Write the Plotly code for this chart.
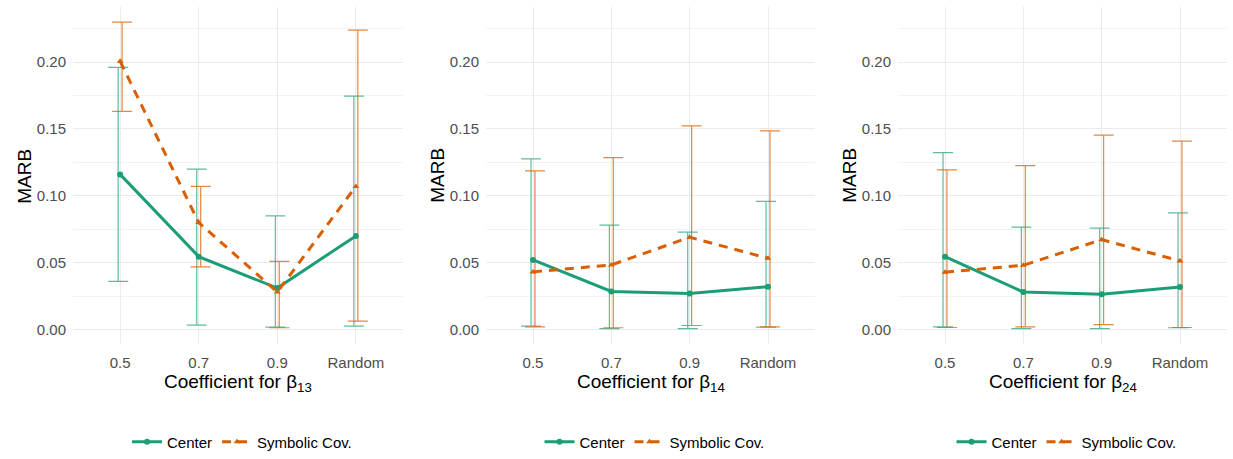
import plotly.graph_objects as go

categories = ["0.5", "0.7", "0.9", "Random"]
panel_subscripts = ["13", "14", "24"]

# Center series: mean, lower, upper per panel
center_mean = [
    [0.116, 0.0545, 0.031, 0.070],
    [0.052, 0.0285, 0.027, 0.032],
    [0.0545, 0.028, 0.0263, 0.0317],
]
center_low = [
    [0.036, 0.0033, 0.0018, 0.0025],
    [0.0025, 0.0007, 0.0007, 0.0018],
    [0.002, 0.0007, 0.0007, 0.0013],
]
center_high = [
    [0.196, 0.120, 0.085, 0.1746],
    [0.1276, 0.078, 0.0728, 0.0958],
    [0.1323, 0.0765, 0.0758, 0.0872],
]

# Symbolic Cov. series
symb_mean = [
    [0.2006, 0.080, 0.028, 0.107],
    [0.0431, 0.0483, 0.069, 0.0533],
    [0.0429, 0.048, 0.0672, 0.0513],
]
symb_low = [
    [0.1632, 0.0468, 0.0013, 0.0062],
    [0.002, 0.0013, 0.003, 0.002],
    [0.0015, 0.002, 0.0037, 0.0015],
]
symb_high = [
    [0.2299, 0.107, 0.051, 0.2239],
    [0.1186, 0.1285, 0.1523, 0.1486],
    [0.1194, 0.1226, 0.1454, 0.1409],
]

GREEN = "#1b9e77"
ORANGE = "#d95f02"
GREEN_A = "rgba(27,158,119,0.7)"
ORANGE_A = "rgba(217,95,2,0.75)"
DODGE = 0.025
FONT = "Liberation Sans, Arial, sans-serif"

W, H = 1233, 459
xdomains = [[73 / W, 403 / W], [486 / W, 815 / W], [898 / W, 1227 / W]]
ydomain = [1 - 346.2 / H, 1 - 6.8 / H]
YRANGE = [-0.0108, 0.2414]

fig = go.Figure()
xs = list(range(len(categories)))

for p in range(3):
    sfx = "" if p == 0 else str(p + 1)
    xa, ya = "x" + sfx, "y" + sfx
    leg = "legend" + sfx
    # error bars (dodged)
    for mean, low, high, col, off in [
        (center_mean[p], center_low[p], center_high[p], GREEN_A, -DODGE),
        (symb_mean[p], symb_low[p], symb_high[p], ORANGE_A, DODGE),
    ]:
        fig.add_trace(go.Scatter(
            x=[x + off for x in xs], y=mean, mode="markers",
            marker=dict(size=1, opacity=0),
            error_y=dict(type="data", symmetric=False,
                         array=[h - m for h, m in zip(high, mean)],
                         arrayminus=[m - l for m, l in zip(mean, low)],
                         color=col, thickness=1.2, width=10),
            xaxis=xa, yaxis=ya, showlegend=False, hoverinfo="skip"))
    fig.add_trace(go.Scatter(
        x=xs, y=center_mean[p], mode="lines+markers", name="Center",
        line=dict(color=GREEN, width=3),
        marker=dict(color=GREEN, size=6, symbol="circle"),
        xaxis=xa, yaxis=ya, legend=leg))
    fig.add_trace(go.Scatter(
        x=xs, y=symb_mean[p], mode="lines+markers", name="Symbolic Cov.",
        line=dict(color=ORANGE, width=3, dash="9px,7px"),
        marker=dict(color=ORANGE, size=6, symbol="triangle-up"),
        xaxis=xa, yaxis=ya, legend=leg))

layout = dict(
    width=W, height=H,
    margin=dict(l=0, r=0, t=0, b=0),
    paper_bgcolor="white", plot_bgcolor="white",
    font=dict(family=FONT, size=15, color="#000000"),
    annotations=[],
)

for p in range(3):
    sfx = "" if p == 0 else str(p + 1)
    layout["xaxis" + sfx] = dict(
        domain=xdomains[p], range=[-0.6, 3.6], anchor="y" + sfx,
        tickmode="array", tickvals=xs, ticktext=categories,
        showgrid=True, gridcolor="#ebebeb", gridwidth=1,
        zeroline=False, showline=False, ticks="",
        ticklabelstandoff=8,
        tickfont=dict(family=FONT, size=15, color="#4d4d4d"),
    )
    layout["yaxis" + sfx] = dict(
        domain=ydomain, range=YRANGE, anchor="x" + sfx,
        tickmode="array", tickvals=[0, 0.05, 0.10, 0.15, 0.20],
        ticktext=["0.00", "0.05", "0.10", "0.15", "0.20"],
        showgrid=True, gridcolor="#ebebeb", gridwidth=1,
        minor=dict(tickvals=[0.025, 0.075, 0.125, 0.175, 0.225],
                   showgrid=True, gridcolor="#f3f3f3", gridwidth=1, ticks=""),
        zeroline=False, showline=False, ticks="",
        ticklabelstandoff=6,
        tickfont=dict(family=FONT, size=15, color="#4d4d4d"),
    )
    cx = (xdomains[p][0] + xdomains[p][1]) / 2
    layout["annotations"].append(dict(
        text="Coefficient for β<sub>" + panel_subscripts[p] + "</sub>",
        x=cx, y=1 - 386 / H, xref="paper", yref="paper",
        xanchor="center", yanchor="middle", showarrow=False,
        font=dict(family=FONT, size=19, color="#000000")))
    layout["annotations"].append(dict(
        text="MARB", textangle=-90,
        x=(xdomains[p][0] * W - 48) / W, y=1 - 177 / H,
        xref="paper", yref="paper",
        xanchor="center", yanchor="middle", showarrow=False,
        font=dict(family=FONT, size=19, color="#000000")))
    layout["legend" + sfx] = dict(
        orientation="h", x=cx + 4 / W, xanchor="center", y=1 - 445 / H, yanchor="middle",
        font=dict(family=FONT, size=15, color="#000000"),
        bgcolor="rgba(0,0,0,0)", itemwidth=30, tracegroupgap=0,
    )

fig.update_layout(**layout)
fig.write_html("out.html")
